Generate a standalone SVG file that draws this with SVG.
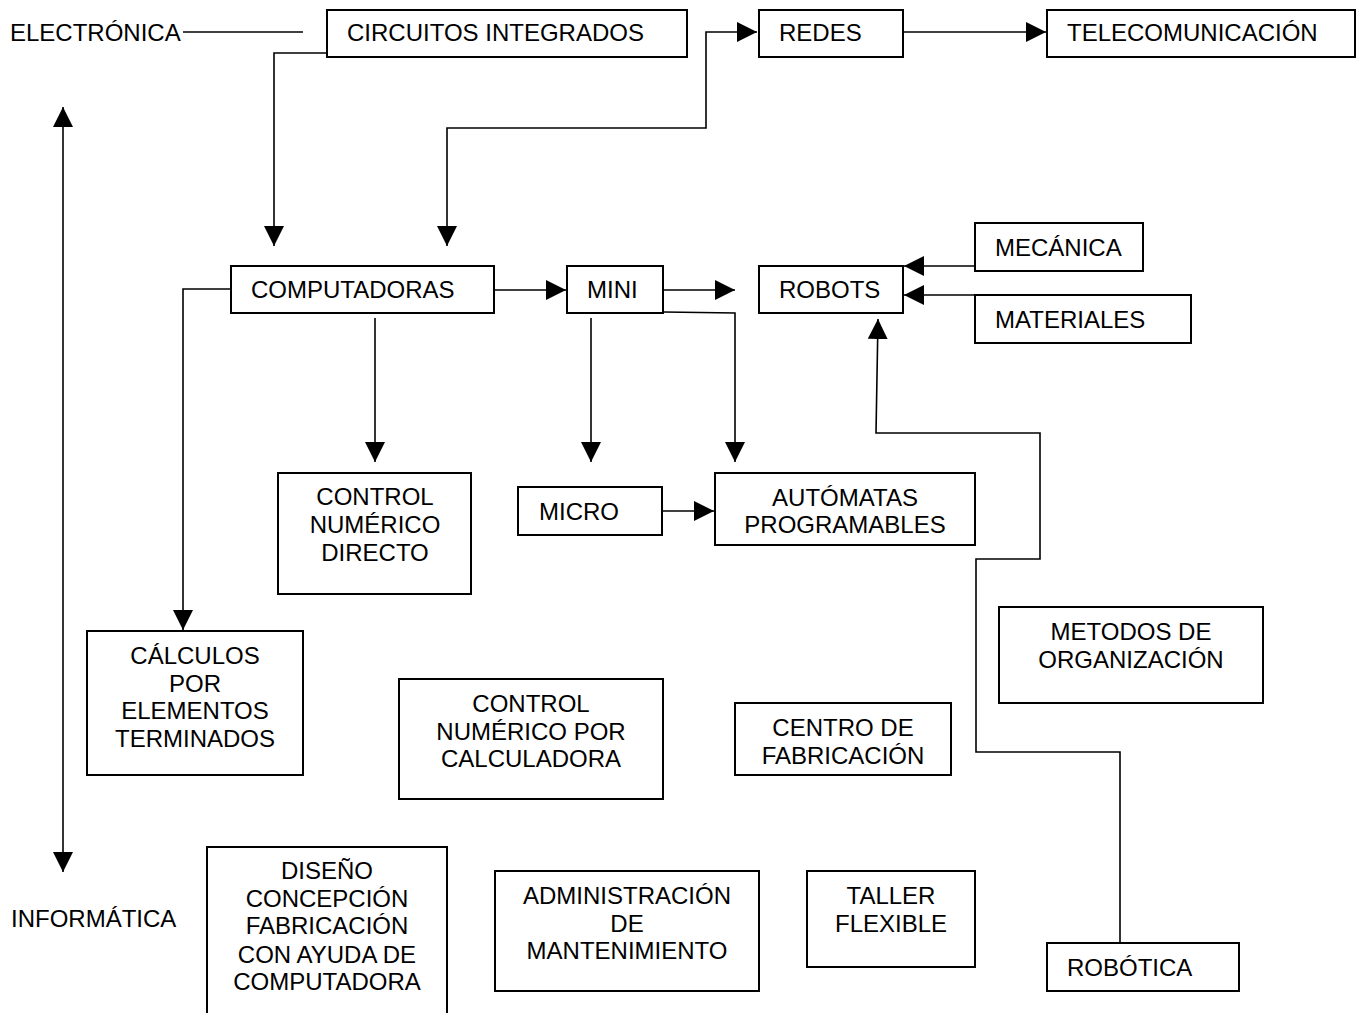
<svg xmlns="http://www.w3.org/2000/svg" width="1366" height="1013" viewBox="0 0 1366 1013">
<style>
  .box { fill: #fff; stroke: #000; stroke-width: 2; }
  .ln { fill: none; stroke: #000; stroke-width: 1.6; }
  text { font-family: "Liberation Sans", Arial, sans-serif; font-size: 24px; fill: #000; }
  .c { text-anchor: middle; }
</style>
<defs>
  <marker id="ah" markerUnits="userSpaceOnUse" markerWidth="20" markerHeight="20" refX="20" refY="10" orient="auto-start-reverse">
    <path d="M0,0 L20,10 L0,20 z" fill="#000"/>
  </marker>
</defs>
<rect width="1366" height="1013" fill="#fff"/>

<g id="connectors">
  <path class="ln" d="M183,32 H303"/>
  <path class="ln" d="M327,53 H274 V246" marker-end="url(#ah)"/>
  <path class="ln" d="M447,246 V128 H706 V32 H757" marker-start="url(#ah)" marker-end="url(#ah)"/>
  <path class="ln" d="M903,32 H1046" marker-end="url(#ah)"/>
  <path class="ln" d="M494,290 H566" marker-end="url(#ah)"/>
  <path class="ln" d="M663,290 H735" marker-end="url(#ah)"/>
  <path class="ln" d="M664,312 L735,313 V462" marker-end="url(#ah)"/>
  <path class="ln" d="M591,318 V462" marker-end="url(#ah)"/>
  <path class="ln" d="M375,318 V462" marker-end="url(#ah)"/>
  <path class="ln" d="M231,289 H183 V630" marker-end="url(#ah)"/>
  <path class="ln" d="M662,511 H714" marker-end="url(#ah)"/>
  <path class="ln" d="M975,266 H904" marker-end="url(#ah)"/>
  <path class="ln" d="M975,295 H904" marker-end="url(#ah)"/>
  <path class="ln" d="M1120,943 V752 H976 V559 H1040 V433 H876 L878,319" marker-end="url(#ah)"/>
  <path class="ln" d="M63,872 V107" marker-start="url(#ah)" marker-end="url(#ah)"/>
</g>

<g id="electronica"><text x="10" y="41">ELECTRÓNICA</text></g>
<g id="informatica"><text x="11" y="927">INFORMÁTICA</text></g>

<g id="circuitos"><rect class="box" x="327" y="10" width="360" height="47"/><text x="347" y="41">CIRCUITOS INTEGRADOS</text></g>
<g id="redes"><rect class="box" x="759" y="10" width="144" height="47"/><text x="779" y="41">REDES</text></g>
<g id="telecom"><rect class="box" x="1047" y="10" width="308" height="47"/><text x="1067" y="41">TELECOMUNICACIÓN</text></g>

<g id="computadoras"><rect class="box" x="231" y="266" width="263" height="47"/><text x="251" y="298">COMPUTADORAS</text></g>
<g id="mini"><rect class="box" x="567" y="266" width="96" height="47"/><text x="587" y="298">MINI</text></g>
<g id="robots"><rect class="box" x="759" y="266" width="144" height="47"/><text x="779" y="298">ROBOTS</text></g>
<g id="mecanica"><rect class="box" x="975" y="223" width="168" height="48"/><text x="995" y="256">MECÁNICA</text></g>
<g id="materiales"><rect class="box" x="975" y="295" width="216" height="48"/><text x="995" y="328">MATERIALES</text></g>

<g id="cnd"><rect class="box" x="278" y="473" width="193" height="121"/>
  <text class="c" x="375" y="505">CONTROL</text><text class="c" x="375" y="533">NUMÉRICO</text><text class="c" x="375" y="561">DIRECTO</text></g>
<g id="micro"><rect class="box" x="518" y="487" width="144" height="48"/><text x="539" y="520">MICRO</text></g>
<g id="automatas"><rect class="box" x="715" y="473" width="260" height="72"/>
  <text class="c" x="845" y="506">AUTÓMATAS</text><text class="c" x="845" y="533">PROGRAMABLES</text></g>

<g id="metodos"><rect class="box" x="999" y="607" width="264" height="96"/>
  <text class="c" x="1131" y="640">METODOS DE</text><text class="c" x="1131" y="668">ORGANIZACIÓN</text></g>

<g id="calculos"><rect class="box" x="87" y="631" width="216" height="144"/>
  <text class="c" x="195" y="664">CÁLCULOS</text><text class="c" x="195" y="692">POR</text><text class="c" x="195" y="719">ELEMENTOS</text><text class="c" x="195" y="747">TERMINADOS</text></g>
<g id="cnc"><rect class="box" x="399" y="679" width="264" height="120"/>
  <text class="c" x="531" y="712">CONTROL</text><text class="c" x="531" y="740">NUMÉRICO POR</text><text class="c" x="531" y="767">CALCULADORA</text></g>
<g id="centro"><rect class="box" x="735" y="703" width="216" height="72"/>
  <text class="c" x="843" y="736">CENTRO DE</text><text class="c" x="843" y="764">FABRICACIÓN</text></g>

<g id="diseno"><rect class="box" x="207" y="847" width="240" height="190"/>
  <text class="c" x="327" y="879">DISEÑO</text><text class="c" x="327" y="907">CONCEPCIÓN</text><text class="c" x="327" y="934">FABRICACIÓN</text><text class="c" x="327" y="963">CON AYUDA DE</text><text class="c" x="327" y="990">COMPUTADORA</text></g>
<g id="administracion"><rect class="box" x="495" y="871" width="264" height="120"/>
  <text class="c" x="627" y="904">ADMINISTRACIÓN</text><text class="c" x="627" y="932">DE</text><text class="c" x="627" y="959">MANTENIMIENTO</text></g>
<g id="taller"><rect class="box" x="807" y="871" width="168" height="96"/>
  <text class="c" x="891" y="904">TALLER</text><text class="c" x="891" y="932">FLEXIBLE</text></g>
<g id="robotica"><rect class="box" x="1047" y="943" width="192" height="48"/><text x="1067" y="976">ROBÓTICA</text></g>
</svg>
